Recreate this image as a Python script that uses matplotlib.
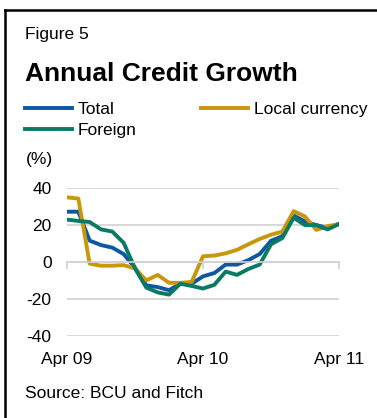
import matplotlib
matplotlib.use("Agg")
import matplotlib.pyplot as plt
from matplotlib.lines import Line2D

plt.rcParams['font.family'] = ['Liberation Sans', 'DejaVu Sans']

# monthly annual growth rates, Apr 2009 - Apr 2011 (%)
months = list(range(25))
tick_pos = [0, 12, 24]
tick_labels = ["Apr 09", "Apr 10", "Apr 11"]

total = [27.3, 27.3, 11.6, 9.2, 7.8, 4.3, -3.1, -12.7, -13.6, -15.3, -11.8, -11.8,
         -7.8, -6.0, -1.4, -1.4, 1.0, 4.3, 11.5, 14.0, 25.2, 22.0, 20.0, 18.5, 20.7]
local_ccy = [35.1, 34.4, -0.9, -2.0, -2.0, -1.7, -3.5, -10.0, -7.0, -11.3, -11.3, -10.8,
             3.1, 3.5, 4.7, 6.6, 9.6, 12.5, 14.8, 16.5, 27.6, 24.7, 17.4, 19.5, 20.5]
foreign = [23.0, 22.3, 21.7, 17.7, 16.5, 10.4, -3.5, -13.9, -16.5, -17.7, -11.8, -13.0,
           -14.4, -12.4, -5.2, -7.0, -3.8, -1.4, 9.6, 13.0, 24.0, 20.0, 20.0, 17.7, 20.6]

BLUE = "#0d57a3"
GOLD = "#c9970c"
GREEN = "#0b7a65"
GRID = "#d2d2d2"
FS = 12.5

W, H = 377, 418
fig = plt.figure(figsize=(W / 100, H / 100), dpi=100)


def fx(x):
    return x / W


def fy(y):
    return 1 - y / H


ax = fig.add_axes([fx(67), fy(335.7), fx(339) - fx(67), fy(188.3) - fy(335.7)])

l_total, = ax.plot(months, total, color=BLUE, lw=2.8, label="Total")
l_local, = ax.plot(months, local_ccy, color=GOLD, lw=2.8, label="Local currency")
l_foreign, = ax.plot(months, foreign, color=GREEN, lw=2.8, label="Foreign")

ax.set_xlim(0, 24)
ax.set_ylim(-40, 40)
ax.set_yticks([-40, -20, 0, 20, 40])
ax.set_yticklabels(["-40", "-20", "0", "20", "40"])
ax.yaxis.grid(True, color=GRID, lw=1.2)
ax.set_axisbelow(True)
ax.tick_params(axis='y', length=0, pad=11, labelsize=FS)
for s in ("left", "right", "top"):
    ax.spines[s].set_visible(False)

# category axis sits on the zero line, labels stay at the bottom
ax.spines["bottom"].set_position(("data", 0))
ax.spines["bottom"].set_color(GRID)
ax.spines["bottom"].set_linewidth(1.2)
ax.set_xticks(tick_pos)
ax.tick_params(axis='x', length=5, width=1.2, color=GRID, direction='out', labelbottom=False)

sec = ax.secondary_xaxis(0.0)
sec.set_xticks(tick_pos)
sec.set_xticklabels(tick_labels)
sec.tick_params(length=0, pad=12, labelsize=FS)
sec.spines["bottom"].set_visible(False)

fig.legend(handles=[l_total, l_foreign, l_local], ncol=2, loc="upper left",
           bbox_to_anchor=(fx(25), fy(102)), frameon=False, fontsize=FS,
           handlelength=2.7, handletextpad=0.35, columnspacing=3.7,
           labelspacing=0.35, borderaxespad=0, borderpad=0)

fig.text(fx(25), fy(39), "Figure 5", fontsize=FS, va="baseline")
fig.text(fx(25), fy(81), "Annual Credit Growth", fontsize=19, weight="bold", va="baseline")
fig.text(fx(26), fy(164), "(%)", fontsize=FS, va="baseline")
fig.text(fx(25), fy(398), "Source: BCU and Fitch", fontsize=FS, va="baseline")

# frame round the panel (top and left edges)
fig.add_artist(Line2D([fx(5), fx(W)], [fy(10), fy(10)], color="black", lw=1.8))
fig.add_artist(Line2D([fx(5), fx(5)], [fy(10), fy(H)], color="black", lw=1.8))

fig.savefig("out.png", dpi=100)
